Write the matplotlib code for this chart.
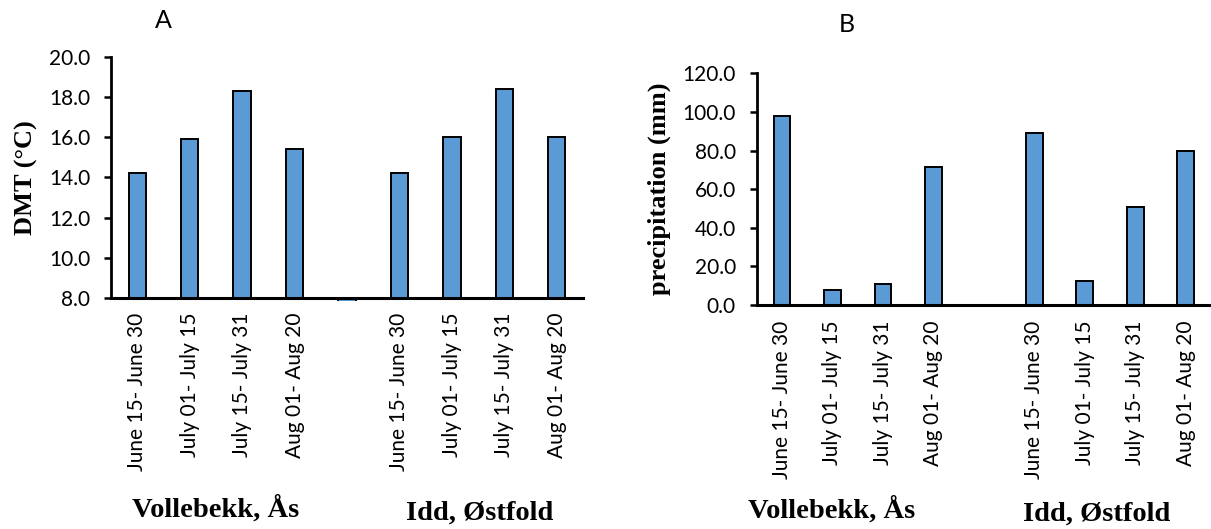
import matplotlib
matplotlib.use("Agg")
import matplotlib.pyplot as plt
import numpy as np

# Sampling periods and sites
periods = ["June 15- June 30", "July 01- July 15", "July 15- July 31", "Aug 01- Aug 20"]
sites = ["Vollebekk, Ås", "Idd, Østfold"]
tick_labels = periods + [""] + periods

# Daily mean temperature (°C)
dmt_vollebekk = [14.2, 15.9, 18.3, 15.4]
dmt_idd = [14.2, 16.0, 18.4, 16.0]

# Precipitation (mm)
precip_vollebekk = [98.1, 7.8, 10.9, 71.5]
precip_idd = [88.9, 12.3, 50.8, 79.6]

# Empty category separating the two sites (blank cell -> zero)
spacer = [0.0]

plt.rcParams["font.family"] = ["Lato", "DejaVu Sans"]

W, H = 1211, 529
fig = plt.figure(figsize=(W / 100, H / 100), dpi=100)

BAR_COLOR = "#5B9BD5"
SERIF_BOLD = dict(family="Liberation Serif", fontweight="bold")


def px_axes(left, top, right, bottom):
    return fig.add_axes([left / W, 1 - bottom / H, (right - left) / W, (bottom - top) / H])


def style_axes(ax, base, top, step, lower):
    # spine placement first: moving a spine rebuilds its ticks
    for s in ("top", "right"):
        ax.spines[s].set_visible(False)
    ax.spines["bottom"].set_position(("data", base))
    ax.spines["left"].set_linewidth(2.0)
    ax.spines["bottom"].set_linewidth(2.2)

    x = np.arange(len(tick_labels))
    ax.set_xlim(-0.5, len(tick_labels) - 0.5)
    ax.set_ylim(lower, top)
    ax.spines["left"].set_bounds(base, top)
    ax.set_yticks(np.arange(base, top + step / 2, step))
    ax.yaxis.set_major_formatter(matplotlib.ticker.FormatStrFormatter("%.1f"))
    ax.set_xticks(x)
    ax.set_xticklabels(tick_labels)
    ax.tick_params(axis="y", direction="out", length=5, width=1.8, labelsize=15, pad=10)
    ax.tick_params(axis="x", length=0, labelsize=15, pad=11, labelrotation=90)
    for lbl in ax.get_xticklabels():
        lbl.set_va("top")
        lbl.set_ha("center")
    return x


# Panel A: temperature
axA = px_axes(111, 57.3, 583, 300.7)
valsA = np.array(dmt_vollebekk + spacer + dmt_idd)
xA = style_axes(axA, 8.0, 20.0, 2.0, 7.85)
axA.bar(xA, valsA - 8.0, bottom=8.0, width=0.33, color=BAR_COLOR,
        edgecolor="black", linewidth=1.4, zorder=1)

# Panel B: precipitation
axB = px_axes(756.7, 73.3, 1211, 305)
valsB = np.array(precip_vollebekk + spacer + precip_idd)
xB = style_axes(axB, 0.0, 120.0, 20.0, 0.0)
axB.bar(xB, valsB, width=0.33, color=BAR_COLOR, edgecolor="black",
        linewidth=1.4, zorder=1)
axB.spines["bottom"].set_zorder(3)

# Panel letters
fig.text(163 / W, 1 - 20 / H, "A", ha="center", va="center", fontsize=18)
fig.text(847 / W, 1 - 25 / H, "B", ha="center", va="center", fontsize=18)

# Y-axis titles
fig.text(26 / W, 1 - 178 / H, "DMT (°C)", rotation=90, ha="center", va="center",
         fontsize=19, **SERIF_BOLD)
fig.text(659 / W, 1 - 189 / H, "precipitation (mm)", rotation=90, ha="center",
         va="center", fontsize=19, **SERIF_BOLD)

# Site names under each group of periods
for (x, y), name in zip([(216, 517), (480, 520)], sites):
    fig.text(x / W, 1 - y / H, name, ha="center", va="baseline", fontsize=20.5, **SERIF_BOLD)
for (x, y), name in zip([(832, 518), (1097, 521)], sites):
    fig.text(x / W, 1 - y / H, name, ha="center", va="baseline", fontsize=20.5, **SERIF_BOLD)

fig.savefig("out.png", dpi=100)
